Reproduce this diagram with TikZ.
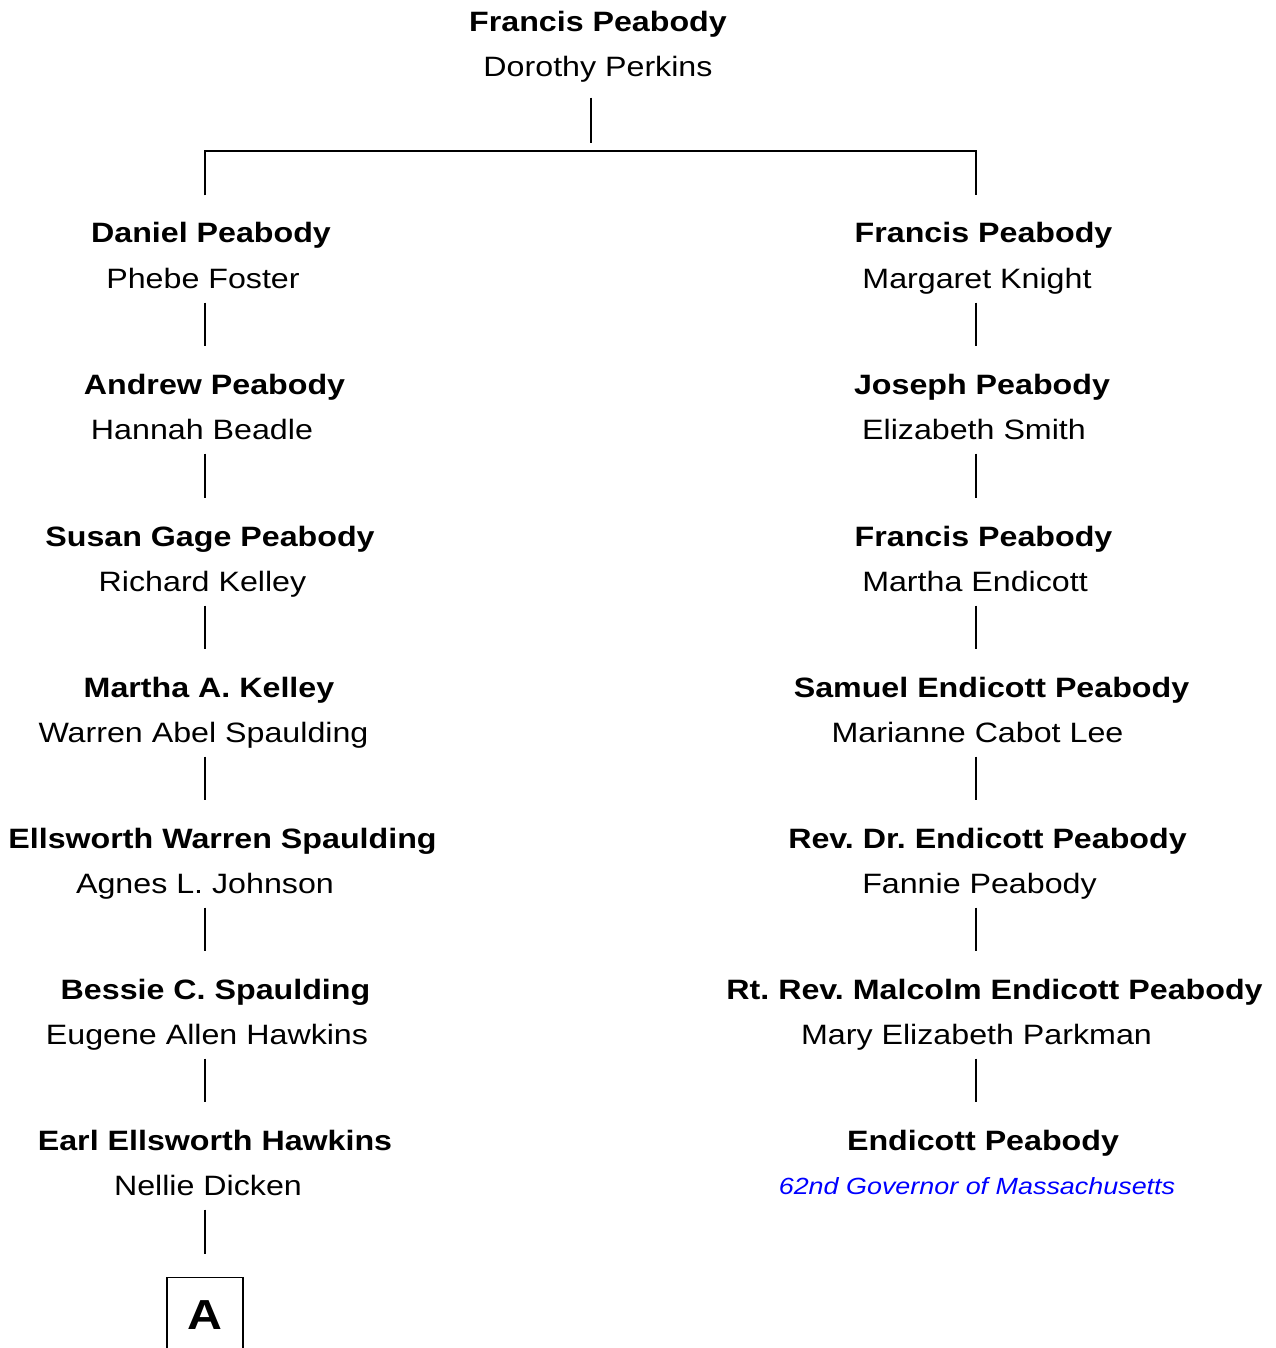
\documentclass[tikz,border=0pt]{standalone}
\usepackage{fontspec}
\setmainfont[FakeStretch=1.15]{Liberation Sans}
\usetikzlibrary{calc}
\frenchspacing

\begin{document}
\begin{tikzpicture}[x=1pt,y=-1pt,line width=1.3pt,
  person/.style={font=\fontsize{28}{34}\selectfont\bfseries, inner sep=0, text height=47pt, anchor=base},
  spouse/.style={font=\fontsize{28}{34}\selectfont, inner sep=0, text depth=14pt, anchor=base},
  note/.style={font=\fontsize{23.4}{30}\selectfont\itshape, text=blue, inner sep=0, anchor=base},
  kinbox/.style={draw, font=\fontsize{42}{50}\selectfont\bfseries, minimum width=76pt, minimum height=74pt, inner sep=0}]
\clip (0,0) rectangle (1275,1348);
\coordinate (L) at (205,0);
\coordinate (R) at (976,0);
\coordinate (fork) at (591,151);
% top couple
\node[person] (p0) at (598,32) {Francis Peabody};
\node[spouse] (s0) at (598,77) {Dorothy Perkins};
% left line
\node[person] (lp1) at (211,243) {Daniel Peabody};
\node[spouse] (ls1) at (203,288) {Phebe Foster};
\node[person] (lp2) at (214.5,394) {Andrew Peabody};
\node[spouse] (ls2) at (202,439) {Hannah Beadle};
\node[person] (lp3) at (210,546) {Susan Gage Peabody};
\node[spouse] (ls3) at (202.5,591) {Richard Kelley};
\node[person] (lp4) at (209,697) {Martha A. Kelley};
\node[spouse] (ls4) at (203.5,742) {Warren Abel Spaulding};
\node[person] (lp5) at (222.5,848) {Ellsworth Warren Spaulding};
\node[spouse] (ls5) at (205,893) {Agnes L. Johnson};
\node[person] (lp6) at (215.5,999) {Bessie C. Spaulding};
\node[spouse] (ls6) at (207,1044) {Eugene Allen Hawkins};
\node[person] (lp7) at (215,1150) {Earl Ellsworth Hawkins};
\node[spouse] (ls7) at (208,1195) {Nellie Dicken};
\node[kinbox, anchor=north] (A) at (205,1277) {A};
% right line
\node[person] (rp1) at (983.5,243) {Francis Peabody};
\node[spouse] (rs1) at (977,288) {Margaret Knight};
\node[person] (rp2) at (982,394) {Joseph Peabody};
\node[spouse] (rs2) at (974,439) {Elizabeth Smith};
\node[person] (rp3) at (983.5,546) {Francis Peabody};
\node[spouse] (rs3) at (975,591) {Martha Endicott};
\node[person] (rp4) at (991.5,697) {Samuel Endicott Peabody};
\node[spouse] (rs4) at (977.5,742) {Marianne Cabot Lee};
\node[person] (rp5) at (987.5,848) {Rev. Dr. Endicott Peabody};
\node[spouse] (rs5) at (979.5,893) {Fannie Peabody};
\node[person] (rp6) at (994.5,999) {Rt. Rev. Malcolm Endicott Peabody};
\node[spouse] (rs6) at (976.5,1044) {Mary Elizabeth Parkman};
\node[person] (rp7) at (983,1150) {Endicott Peabody};
\node[note] (gov) at (977,1194) {62nd Governor of Massachusetts};
% connectors
\draw ([yshift=-6pt]s0.south -| fork) -- ([yshift=8pt]fork);
\draw (lp1.north -| L) |- (fork) -| (rp1.north -| R);
\draw (ls1.south -| L) -- (lp2.north -| L);
\draw (ls2.south -| L) -- (lp3.north -| L);
\draw (ls3.south -| L) -- (lp4.north -| L);
\draw (ls4.south -| L) -- (lp5.north -| L);
\draw (ls5.south -| L) -- (lp6.north -| L);
\draw (ls6.south -| L) -- (lp7.north -| L);
\draw (ls7.south -| L) -- ([yshift=23pt]A.north);
\draw (rs1.south -| R) -- (rp2.north -| R);
\draw (rs2.south -| R) -- (rp3.north -| R);
\draw (rs3.south -| R) -- (rp4.north -| R);
\draw (rs4.south -| R) -- (rp5.north -| R);
\draw (rs5.south -| R) -- (rp6.north -| R);
\draw (rs6.south -| R) -- (rp7.north -| R);
\end{tikzpicture}
\end{document}
